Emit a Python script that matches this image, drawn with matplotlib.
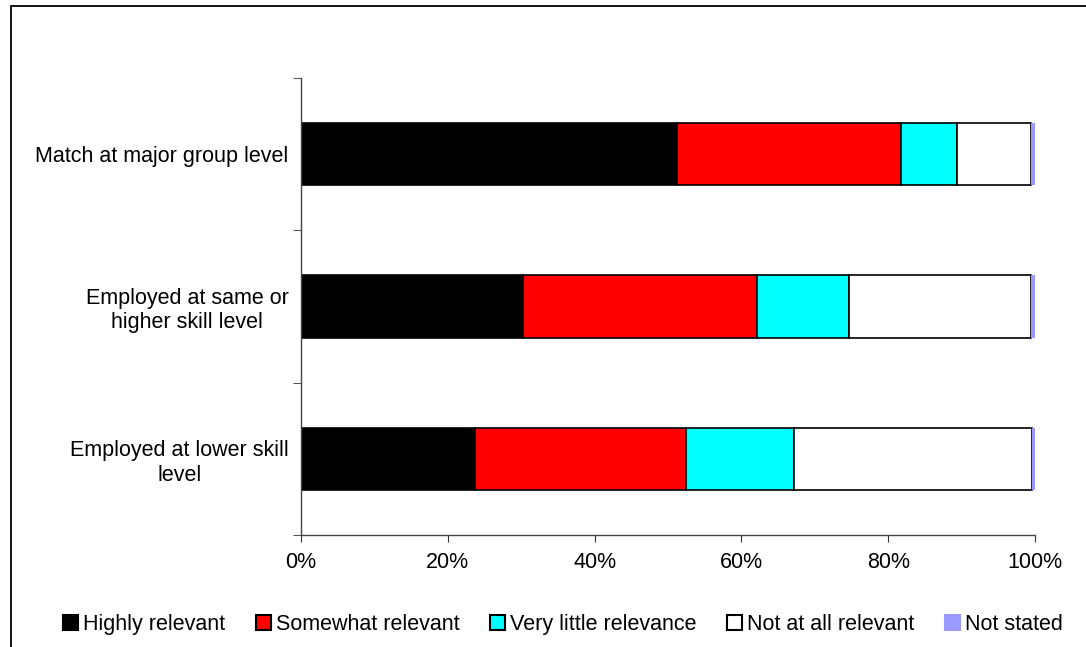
import matplotlib.pyplot as plt
from matplotlib.patches import Patch, Rectangle
from matplotlib.ticker import FuncFormatter

plt.rcParams['font.family'] = ['Liberation Sans', 'DejaVu Sans']

# Répartition (%) par niveau d'adéquation de l'emploi
groups = ['Match at major group level',
          'Employed at same or\nhigher skill level',
          'Employed at lower skill\nlevel']
series_names = ['Highly relevant', 'Somewhat relevant', 'Very little relevance',
                'Not at all relevant', 'Not stated']
highly = [51.2, 30.3, 23.7]
somewhat = [30.5, 31.8, 28.7]
very_little = [7.7, 12.5, 14.8]
not_at_all = [10.0, 24.9, 32.4]
not_stated = [0.6, 0.5, 0.4]

colors = ['#000000', '#FF0000', '#00FFFF', '#FFFFFF', '#9999FF']
edges = ['black', 'black', 'black', 'black', 'none']

fig = plt.figure(figsize=(10.86, 6.47), dpi=100)
ax = fig.add_axes([0.2772, 0.1731, 0.6759, 0.7063])

y = list(range(len(groups)))
left = [0.0] * len(groups)
for vals, col, ec in zip([highly, somewhat, very_little, not_at_all, not_stated], colors, edges):
    ax.barh(y, vals, left=left, height=0.41, color=col, edgecolor=ec, linewidth=1.2)
    left = [l + v for l, v in zip(left, vals)]

ax.set_xlim(0, 100)
ax.set_ylim(2.5, -0.5)
ax.set_xticks([0, 20, 40, 60, 80, 100])
ax.xaxis.set_major_formatter(FuncFormatter(lambda v, p: f'{v:.0f}%'))
ax.tick_params(axis='x', direction='out', length=5, pad=7, labelsize=15.5, color='#333333')

# noms des catégories sans tick, ticks mineurs aux séparations
ax.set_yticks(y)
ax.set_yticklabels(groups, multialignment='center', fontsize=15.5)
ax.tick_params(axis='y', which='major', length=0, pad=9)
ax.set_yticks([-0.5, 0.5, 1.5, 2.5], minor=True)
ax.tick_params(axis='y', which='minor', direction='out', length=6, color='#333333')

for s in ['top', 'right']:
    ax.spines[s].set_visible(False)
for s in ['left', 'bottom']:
    ax.spines[s].set_color('#444444')
    ax.spines[s].set_linewidth(1.0)

handles = [Patch(facecolor=c, edgecolor=('black' if e != 'none' else c), linewidth=1.5)
           for c, e in zip(colors, edges)]
fig.legend(handles, series_names, loc='center', bbox_to_anchor=(0.5184, 0.035),
           ncol=5, frameon=False, fontsize=15.5, handlelength=0.7, handleheight=0.7,
           handletextpad=0.25, columnspacing=1.4, borderpad=0)

# cadre de la zone graphique
fig.patches.append(Rectangle((0.0101, -0.05), 1.2, 1.0407, transform=fig.transFigure,
                             fill=False, edgecolor='black', linewidth=1.3))

fig.savefig('out.png', dpi=100)
